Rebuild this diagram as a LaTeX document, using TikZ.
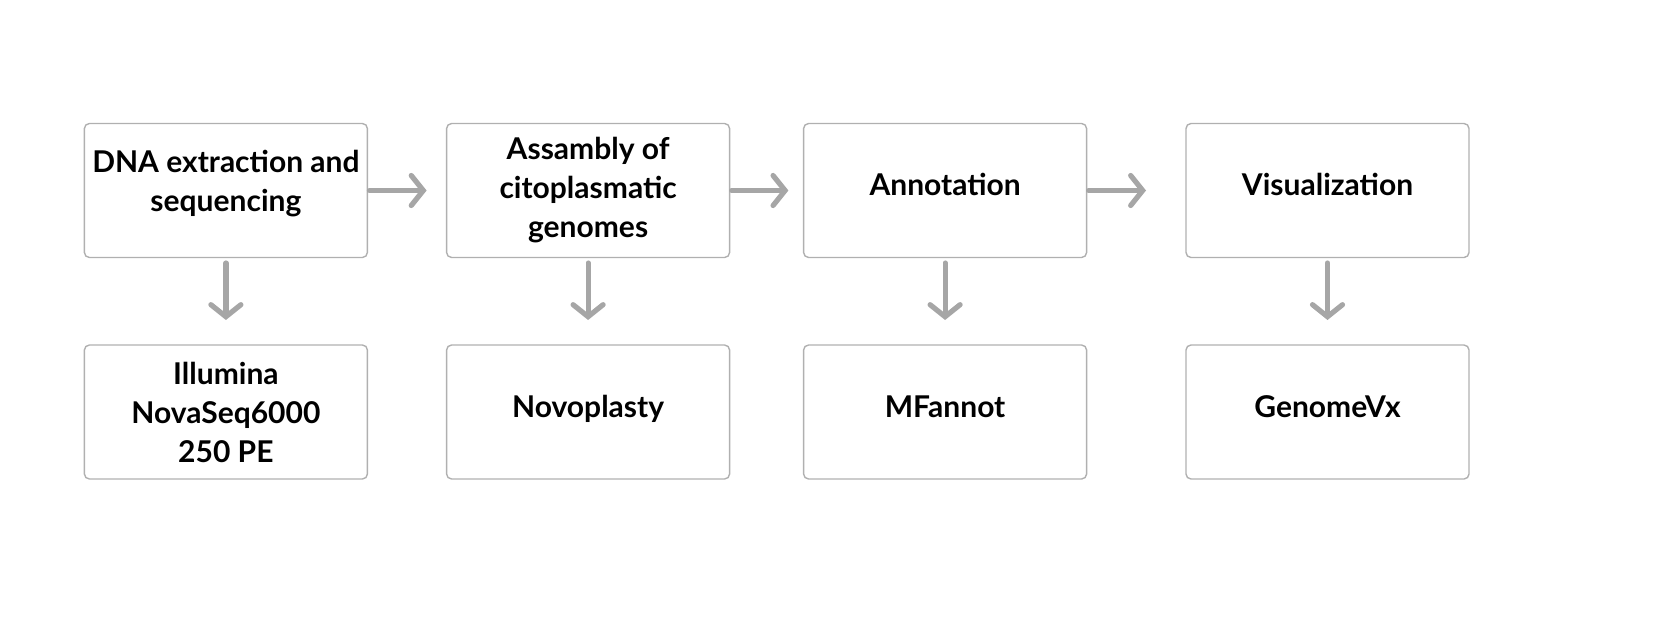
\documentclass[tikz,border=0pt]{standalone}
\usepackage{fontspec}
\setmainfont{Lato}
\usetikzlibrary{positioning, arrows.meta}
\definecolor{boxgray}{HTML}{B0B0B0}
\definecolor{arrowgray}{HTML}{A6A6A6}

\begin{document}
\begin{tikzpicture}[
    stage/.style = {
        draw=boxgray,
        line width=0.7pt,
        rounded corners=2.5pt,
        minimum width=141.5pt,
        minimum height=67pt,
        inner sep=0pt,
        outer sep=0pt,
        align=center,
        font=\bfseries\fontsize{15}{19.5}\selectfont,
    },
    oneline/.style = {
        text height=11pt,
        text depth=6pt,
    },
    flow/.style = {
        -{Straight Barb[length=6pt, width=15pt, line cap=round]},
        draw=arrowgray,
        line width=2.6pt,
        line cap=round,
    },
    node distance=43.75pt and 39.6pt,
]
\useasboundingbox (0pt, 0pt) rectangle (827.5pt, -321.5pt);
% upper row: the steps
\node [stage, text depth=9.5pt] (dna) at (112.95pt, -95.25pt) {DNA extraction and\\sequencing};
\node [stage, right=of dna] (assembly) {Assambly of\\citoplasmatic\\genomes};
\node [stage, oneline, right=37pt of assembly] (annotation) {Annotation};
\node [stage, oneline, right=49.7pt of annotation] (visual) {Visualization};
% lower row: the tools
\node [stage, below=of dna] (illumina) {Illumina\\NovaSeq6000\\250 PE};
\node [stage, oneline, below=of assembly] (novoplasty) {Novoplasty};
\node [stage, oneline, below=of annotation] (mfannot) {MFannot};
\node [stage, oneline, below=of visual] (genomevx) {GenomeVx};
\draw [flow, shorten <=1pt, shorten >=10pt] (dna) -- (assembly);
\draw [flow, shorten <=1pt, shorten >=7.6pt] (assembly) -- (annotation);
\draw [flow, shorten <=1pt, shorten >=20pt] (annotation) -- (visual);
\foreach \top/\bottom in {dna/illumina, assembly/novoplasty, annotation/mfannot, visual/genomevx}
    \draw [flow, shorten <=2.75pt, shorten >=12.5pt] (\top) -- (\bottom);
\end{tikzpicture}
\end{document}
